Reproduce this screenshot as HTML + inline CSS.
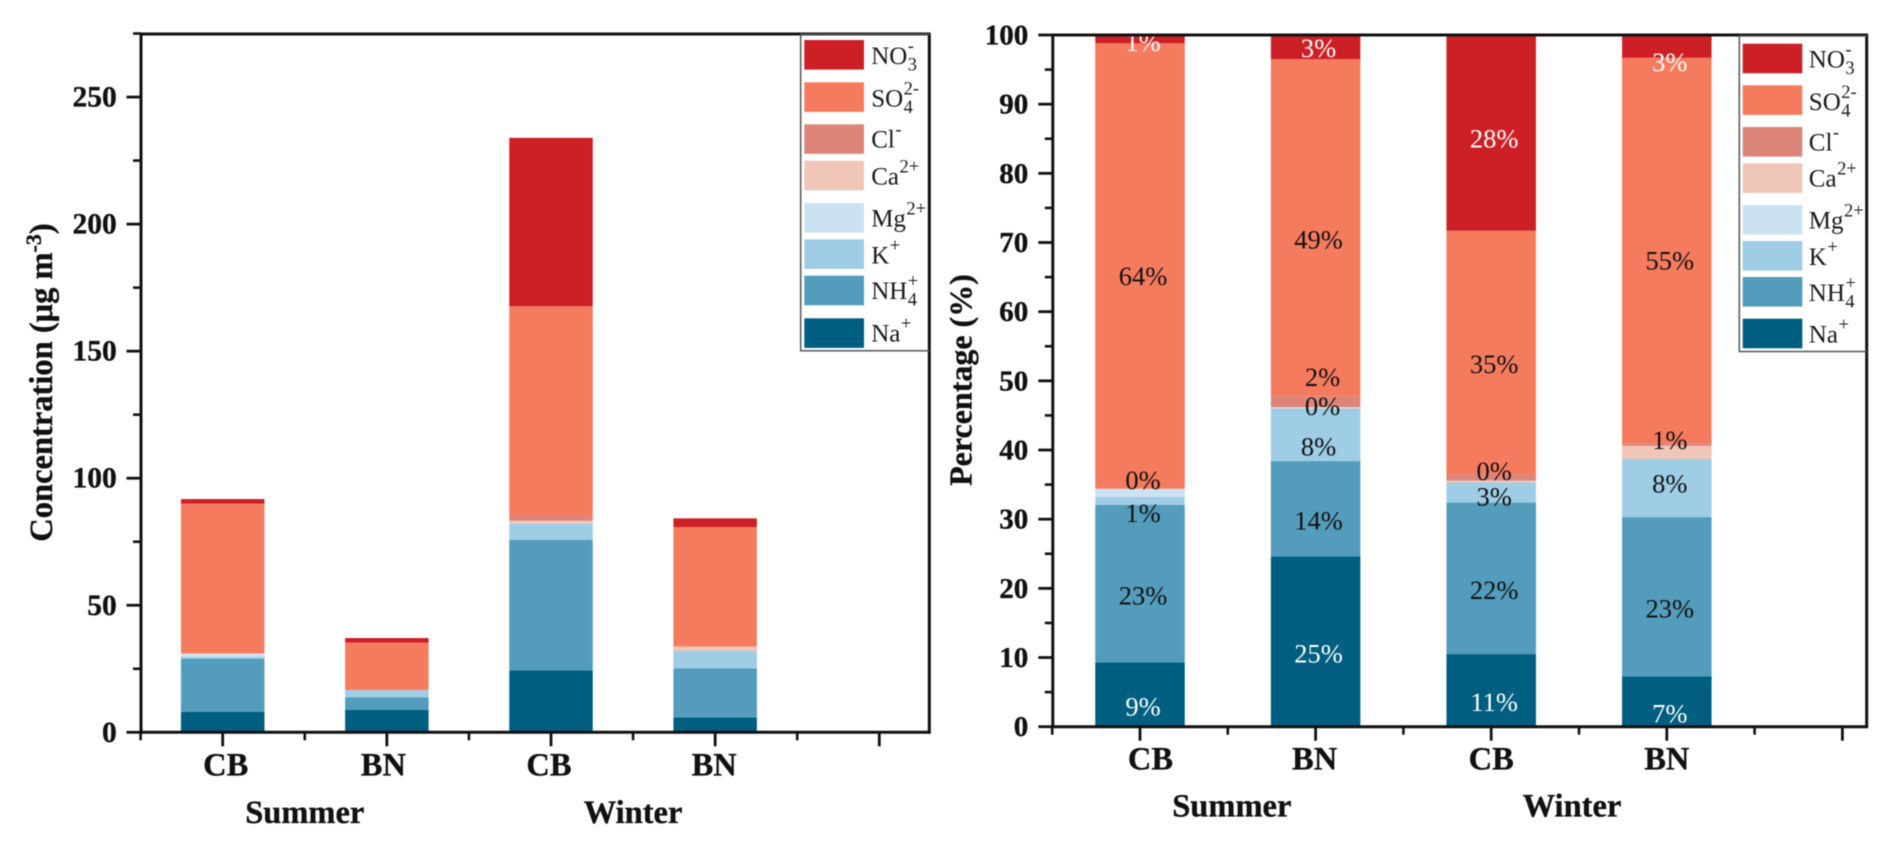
<!DOCTYPE html>
<html lang="en">
<head>
<meta charset="utf-8">
<title>Ion concentration and percentage by season and site</title>
<style>
html,body{margin:0;padding:0;background:#fff;width:1892px;height:846px;overflow:hidden}
svg{display:block;font-family:"Liberation Serif","DejaVu Serif",serif;filter:blur(0.45px)}
.strong{font-weight:bold;stroke:#111;stroke-width:0.35px}
</style>
</head>
<body>
<svg id="figure" width="1892" height="846" viewBox="0 0 1892 846" xmlns="http://www.w3.org/2000/svg"></svg>
<script>
// ---------- data ----------
const categories = ['CB', 'BN', 'CB', 'BN'];
const seasons = ['Summer', 'Winter'];
const speciesKeys = ['na', 'nh4', 'k', 'mg', 'ca', 'cl', 'so4', 'no3'];
const speciesColors = ['#005f80', '#539cbb', '#9ecde5', '#cbe3f0', '#f0c6b8', '#de8579', '#f57b5e', '#cd2026'];

const concNa  = [8.1, 8.8, 24.4, 5.9];
const concNH4 = [20.9, 5.0, 51.3, 19.3];
const concK   = [0.75, 2.8, 6.45, 6.8];
const concMg  = [1.05, 0, 0.05, 0];
const concCa  = [0.15, 0, 1.05, 1.7];
const concCl  = [0.15, 0.2, 2.1, 0.3];
const concSO4 = [58.9, 18.5, 82.3, 46.8];
const concNO3 = [1.8, 1.8, 66.3, 3.4];

const pctNa  = [9.3, 24.6, 10.5, 7.3];
const pctNH4 = [22.75, 13.8, 21.9, 23.0];
const pctK   = [1.15, 7.6, 2.9, 8.4];
const pctMg  = [1.1, 0.1, 0, 0];
const pctCa  = [0.1, 0.1, 0.3, 1.9];
const pctCl  = [0.1, 1.6, 1.0, 0.4];
const pctSO4 = [64.3, 48.7, 35.1, 55.7];
const pctNO3 = [1.2, 3.5, 28.3, 3.3];

const labelsNa  = ['9%', '25%', '11%', '7%'];
const labelsNH4 = ['23%', '14%', '22%', '23%'];
const labelsK   = ['1%', '8%', '3%', '8%'];
const labelsMg  = ['0%', '0%', '', ''];
const labelsCa  = ['', '', '', '1%'];
const labelsCl  = ['', '2%', '0%', ''];
const labelsSO4 = ['64%', '49%', '35%', '55%'];
const labelsNO3 = ['1%', '3%', '28%', '3%'];

const concTicks = [0, 50, 100, 150, 200, 250];
const pctTicks = [0, 10, 20, 30, 40, 50, 60, 70, 80, 90, 100];

const legendBase = ['NO', 'SO', 'Cl', 'Ca', 'Mg', 'K', 'NH', 'Na'];
const legendSup  = ['-', '2-', '-', '2+', '2+', '+', '+', '+'];
const legendSub  = ['3', '4', '', '', '', '', '4', ''];
const legendSpecies = [7, 6, 5, 4, 3, 2, 1, 0];

// ---------- layout (not data) ----------
const leftLayout = {
  id: 'concentration', xAt0: 222.7, xStep: 164.15, barW: 83.5, left: 141, right: 929.3, top: 34,
  yOf0: 732.3, pxPerUnit: 2.541, yMax: 275, minorStep: 25, tickFont: 29.5, tickRight: 116.7,
  catDx: [3, -3.5, -2, -1], catBase: 775.5, seasonDx: [0, 0], seasonBase: 823,
  legend: { x: 800.7, y: 34.3, w: 128.6, h: 316.5, swX: 804.3, swW: 59.7, swH: 29.6, textX: 871.2,
    rowTop: [40, 82.3, 124.3, 160.7, 203, 239.3, 275.7, 318.3],
    rowBase: [64, 106.7, 147.7, 184.3, 226.7, 263.3, 299, 341.7] }
};
const rightLayout = {
  id: 'percentage', xAt0: 1140, xStep: 175.6, barW: 89.5, left: 1052.8, right: 1866.7, top: 35,
  yOf0: 726.7, pxPerUnit: 6.917, yMax: 100, minorStep: 5, tickFont: 29, tickRight: 1028.3,
  catDx: [10.5, -1, 0, 0], catBase: 769.7, seasonDx: [4, -7], seasonBase: 816.7,
  legend: { x: 1739.3, y: 36, w: 127.4, h: 315.5, swX: 1742.7, swW: 59.6, swH: 29.6, textX: 1808.8,
    rowTop: [43.7, 85.3, 127, 163.3, 205, 241, 277, 318.7],
    rowBase: [67.7, 110, 150.7, 186.7, 228.3, 265, 301, 342.3] }
};
// manual label displacement as [column, species, dx, dy] in pixels
const labelNudges = [
  [0, 3, 0, -25], [0, 6, 0, -1.5], [0, 7, 0, -9],
  [1, 3, 4, -14], [1, 5, 4, -36.6], [1, 7, 0, -11],
  [2, 2, 0, -8], [2, 5, 0, -18], [2, 7, 0, -6],
  [3, 2, 0, -16.5], [3, 4, 0, -24], [3, 6, 0, -2], [3, 7, 0, 4]
];

const concSeries = [concNa, concNH4, concK, concMg, concCa, concCl, concSO4, concNO3];
const pctSeries = [pctNa, pctNH4, pctK, pctMg, pctCa, pctCl, pctSO4, pctNO3];
const labelSeries = [labelsNa, labelsNH4, labelsK, labelsMg, labelsCa, labelsCl, labelsSO4, labelsNO3];

// ---------- drawing ----------
const SVGNS = 'http://www.w3.org/2000/svg';
const INK = '#111';
const root = document.getElementById('figure');

function make(tag, parent, props, text) {
  const node = document.createElementNS(SVGNS, tag);
  for (const key in props) node.setAttribute(key, props[key]);
  if (text !== undefined) node.textContent = text;
  parent.appendChild(node);
  return node;
}
function line(parent, x1, y1, x2, y2, width, color) {
  return make('line', parent, { x1, y1, x2, y2, stroke: color || INK, 'stroke-width': width });
}

function drawChart(cfg, series, labels, tickValues) {
  const x = i => cfg.xAt0 + cfg.xStep * i;
  const y = v => cfg.yOf0 - cfg.pxPerUnit * v;

  const chart = make('g', root, {});
  
  

  // bars
  categories.forEach((cat, col) => {
    let base = 0;
    series.forEach((values, s) => {
      const v = values[col];
      const bar = make('rect', chart, { x: x(col) - cfg.barW / 2, y: y(base + v), width: cfg.barW, height: Math.max(0, cfg.pxPerUnit * v), fill: speciesColors[s] });
      
      
      base += v;
    });
  });

  // percentage labels
  if (labels) {
    categories.forEach((cat, col) => {
      let base = 0;
      series.forEach((values, s) => {
        const v = values[col];
        const txt = labels[s][col];
        if (txt) {
          const nudge = labelNudges.find(n => n[0] === col && n[1] === s) || [0, 0, 0, 0];
          const light = s === 0 || s === 7;
          const t = make('text', chart, { x: x(col) + 3 + nudge[2], y: y(base + v / 2) + 20.8 + nudge[3], 'text-anchor': 'middle', 'font-size': 26.5, fill: light ? '#fff' : '#111' }, txt);
          
          
        }
        base += v;
      });
    });
  }

  // spines
  const spines = make('g', chart, {});
  
  
  const yTop = cfg.top;
  const yBottom = y(0);
  line(spines, cfg.left, yTop - 1.3, cfg.left, yBottom + 1.3, 3);
  line(spines, cfg.left, yBottom, cfg.right + 1.3, yBottom, 3);
  line(spines, cfg.left, yTop, cfg.right + 1.3, yTop, 3);
  line(spines, cfg.right, yTop, cfg.right, yBottom + 1.3, 3);

  // y ticks
  const yAxis = make('g', chart, {});
  
  
  for (let v = 0; v <= cfg.yMax + 0.001; v += cfg.minorStep) {
    if (!tickValues.includes(v)) line(yAxis, cfg.left - 8, y(v), cfg.left, y(v), 2.6);
  }
  tickValues.forEach(v => {
    line(yAxis, cfg.left - 14.5, y(v), cfg.left, y(v), 2.8);
    const t = make('text', yAxis, { x: cfg.tickRight, y: y(v) + 9.5, 'text-anchor': 'end', 'font-size': cfg.tickFont, class: 'strong', fill: INK }, String(v));
    
    
  });

  // x ticks and labels
  const xAxis = make('g', chart, {});
  
  
  for (let i = -0.5; x(i) < cfg.right; i += 1) line(xAxis, x(i), yBottom, x(i), yBottom + 8, 2.6);
  for (let i = 0; x(i) < cfg.right; i += 1) line(xAxis, x(i), yBottom, x(i), yBottom + 14, 2.8);
  categories.forEach((cat, col) => {
    const t = make('text', xAxis, { x: x(col) + cfg.catDx[col], y: cfg.catBase, 'text-anchor': 'middle', 'font-size': 32.5, class: 'strong', fill: INK }, cat);
    
    
  });
  seasons.forEach((season, k) => {
    const t = make('text', xAxis, { x: x(k * 2 + 0.5) + cfg.seasonDx[k], y: cfg.seasonBase, 'text-anchor': 'middle', 'font-size': 32.5, class: 'strong', fill: INK }, season);
    
    
  });

  // legend
  const L = cfg.legend;
  const legend = make('g', chart, {});
  
  
  make('path', legend, { d: 'M' + (L.x + L.w) + ' ' + L.y + 'H' + L.x + 'V' + (L.y + L.h) + 'H' + (L.x + L.w), fill: 'none', stroke: '#555', 'stroke-width': 1.5 });
  legendSpecies.forEach((s, row) => {
    const entry = make('g', legend, {});
    
    
    make('rect', entry, { x: L.swX, y: L.rowTop[row], width: L.swW, height: L.swH, fill: speciesColors[s] });
    const baseText = make('text', entry, { x: L.textX, y: L.rowBase[row], 'font-size': 25, fill: '#1a1a1a' }, legendBase[row]);
    const after = L.textX + baseText.getComputedTextLength() + 0.5;
    if (legendSup[row]) make('text', entry, { x: after, y: L.rowBase[row] - 12, 'font-size': 18.5, fill: '#1a1a1a' }, legendSup[row]);
    if (legendSub[row]) make('text', entry, { x: after, y: L.rowBase[row] + 6.5, 'font-size': 18.5, fill: '#1a1a1a' }, legendSub[row]);
  });
}

drawChart(leftLayout, concSeries, null, concTicks);
drawChart(rightLayout, pctSeries, labelSeries, pctTicks);

// y-axis titles
const leftTitle = make('text', root, { transform: 'translate(52 382.5) rotate(-90)', 'text-anchor': 'middle', 'font-size': 32.5, class: 'strong', fill: INK });


make('tspan', leftTitle, {}, 'Concentration (μg m');
make('tspan', leftTitle, { dy: -11, 'font-size': 22 }, '-3');
make('tspan', leftTitle, { dy: 11 }, ')');

const rightTitle = make('text', root, { transform: 'translate(971.7 380) rotate(-90)', 'text-anchor': 'middle', 'font-size': 32, class: 'strong', fill: INK }, 'Percentage (%)');


</script>
</body>
</html>
